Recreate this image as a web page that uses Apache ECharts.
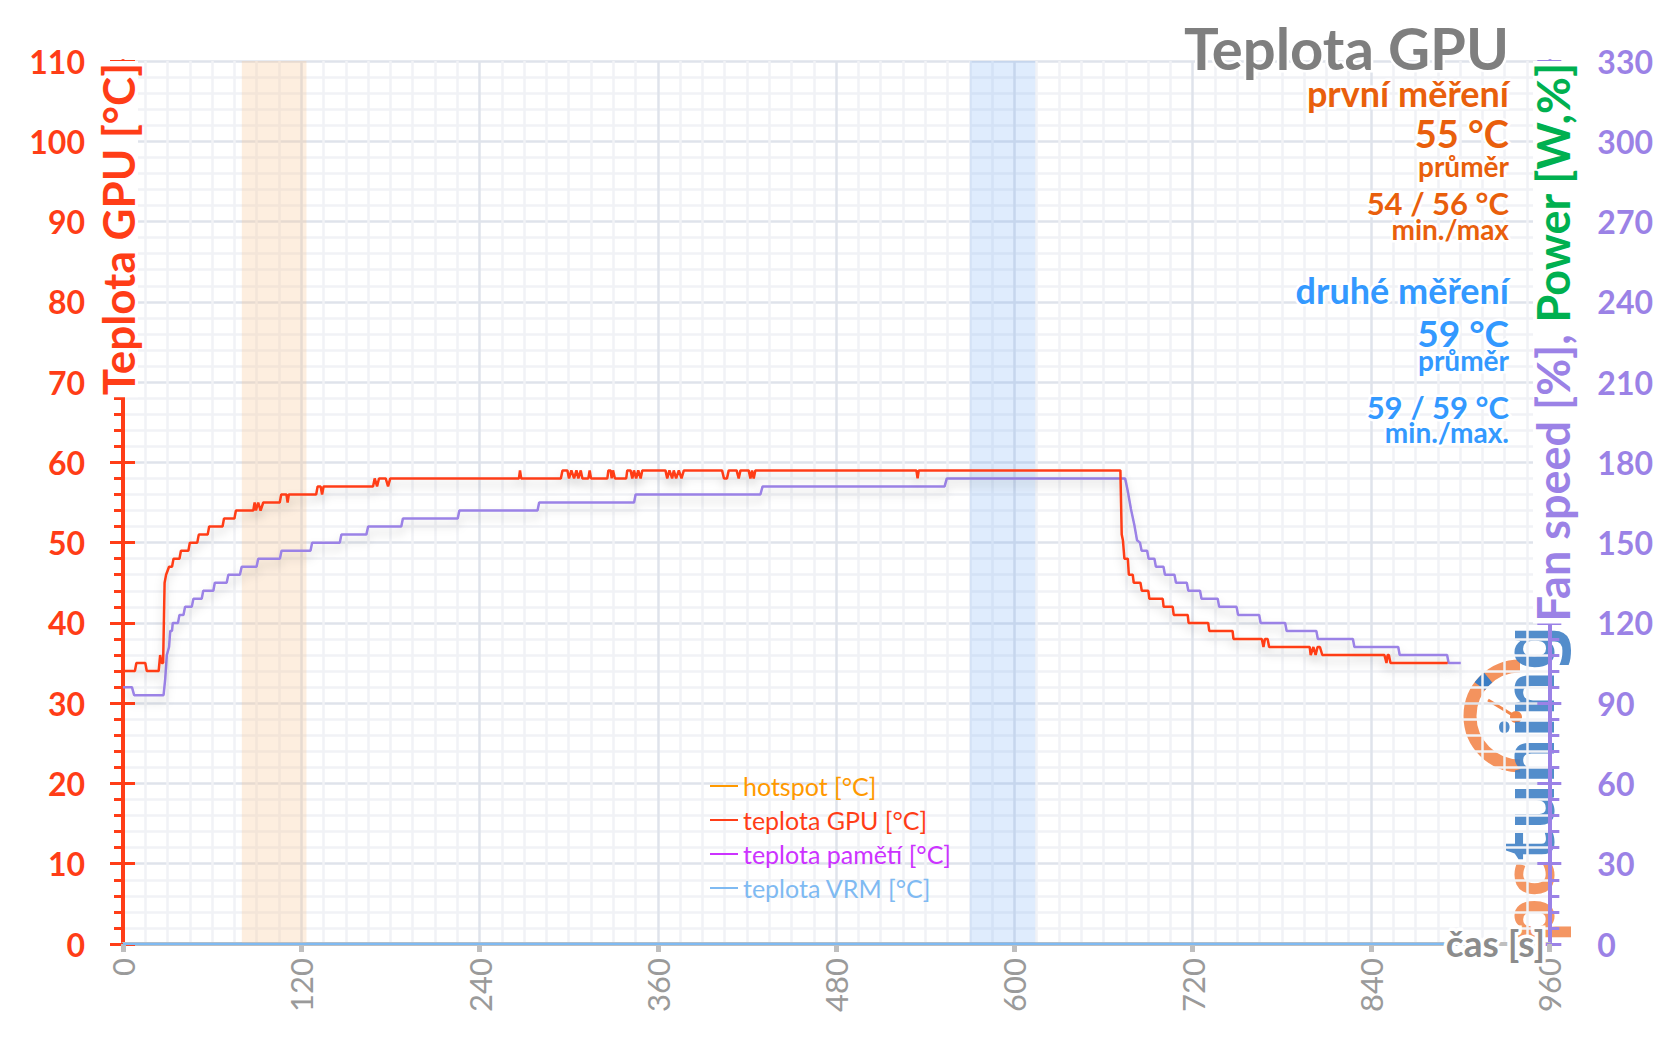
<!DOCTYPE html>
<html>
<head>
<meta charset="utf-8">
<title>Teplota GPU</title>
<script src="https://cdn.jsdelivr.net/npm/echarts@6/dist/echarts.min.js"></script>
<style>
  html, body { margin: 0; padding: 0; background: #fff; }
  #chart { width: 1656px; height: 1043px; }
</style>
</head>
<body>
<div id="chart"></div>
<script>
// osa X - cas [s]
const xTicks = [0, 120, 240, 360, 480, 600, 720, 840, 960]

// teplota GPU (cervena), cas [s] / hodnota [°C]
const gpuTime = [0, 8, 9, 15, 16, 24, 25, 26, 27, 28, 29, 31, 33, 34, 38, 39, 44, 45, 50, 51, 57, 58, 67, 68, 75, 76,
  87.7, 88.6, 89.5, 91, 92.6, 94.4, 105.5, 106.5, 110, 110.8, 111.6, 130, 131, 133, 134, 135,
  168.3, 169.4, 171, 172.3, 176.8, 178.4, 179.9, 266.5, 267.2, 268, 294.7, 295.8, 299.1, 300.2, 301.8, 303.6,
  305.2, 306.5, 308.1, 309.2, 313.2, 314.1, 315, 326, 326.7, 328.2, 328.9, 329.8, 331.1, 338.7, 339.4, 341.6,
  342.8, 343.9, 345.4, 346.8, 348.4, 349.5, 365.1, 366.3, 367.8, 369.6, 370.7, 372.3, 374.1, 375.9, 377.5,
  403.2, 404.5, 406.5, 407.7, 413, 414.4, 415.6, 421.1, 422.3, 423.4, 424.5, 425.6, 534, 534.8, 535.6,
  671.3, 672.2, 673, 674, 676.3, 677, 679.6, 680.3, 684.8, 685.7, 690.1, 690.8, 699.8, 700.4, 706.5, 707.2,
  716.6, 717.2, 730.4, 731.1, 746.8, 747.4, 766.5, 767.6, 768.6, 770.4, 771.4, 798.7, 799.4, 801.2, 802.7,
  804, 805.6, 807.2, 849, 850.4, 851.2, 852, 853.1, 891.6]
const gpuTemp = [34, 34, 35, 35, 34, 34, 36, 35, 35, 45, 46, 47, 47, 48, 48, 49, 49, 50, 50, 51, 51, 52, 52, 53, 53, 54,
  54, 55, 54, 55, 54, 55, 55, 56, 56, 55, 56, 56, 57, 57, 56, 57,
  57, 58, 57, 58, 58, 57, 58, 58, 59, 58, 58, 59, 59, 58, 59, 58,
  59, 58, 59, 58, 58, 59, 58, 58, 59, 59, 58, 59, 58, 58, 59, 59,
  58, 59, 58, 59, 58, 59, 59, 58, 59, 58, 59, 58, 59, 58, 59,
  59, 58, 58, 59, 59, 58, 59, 59, 58, 59, 58, 59, 59, 58, 59,
  59, 51, 50.3, 48, 48, 46, 46, 45, 45, 44, 44, 43, 43, 42, 42, 41,
  41, 40, 40, 39, 39, 38, 38, 37, 38, 38, 37, 37, 36, 37, 36,
  37, 37, 36, 36, 35, 36, 36, 35, 35]

// druha krivka (fialova) [°C]
const memTime = [0, 6, 7.5, 27.3, 28.4, 29.5, 31, 31.8, 33, 33.5, 37, 38, 40.7, 41.8, 46.3, 47.4, 53, 54, 60.8, 61.8,
  69.8, 70.9, 78.7, 79.9, 89.9, 91, 105.6, 106.7, 126.2, 127.3, 145.9, 147, 163.8, 165, 187.3, 188.4,
  225.3, 226.4, 279, 280.1, 344, 345, 429, 430.5, 553, 554.5, 674.5, 676.2, 678.4, 680.7, 682.5, 684.5,
  685.6, 689.3, 690.3, 694.2, 695.2, 700.3, 701.3, 707.7, 708.7, 716, 717, 724.9, 725.9, 736.8, 737.8,
  749.5, 750.5, 764.7, 765.7, 782.2, 783.2, 803.2, 804.2, 827.8, 828.8, 858.3, 859.3, 891.2, 892.2, 900.4]
const memTemp = [32, 32, 31, 31, 33, 36, 37, 39, 39, 40, 40, 41, 41, 42, 42, 43, 43, 44, 44, 45,
  45, 46, 46, 47, 47, 48, 48, 49, 49, 50, 50, 51, 51, 52, 52, 53,
  53, 54, 54, 55, 55, 56, 56, 57, 57, 58, 58, 56.5, 54.2, 52.2, 50.3, 50,
  49, 49, 48, 48, 47, 47, 46, 46, 45, 45, 44, 44, 43, 43, 42,
  42, 41, 41, 40, 40, 39, 39, 38, 38, 37, 37, 36, 36, 35, 35]

// teplota VRM - nulova
const vrmTime = [0, 900]
const vrmTemp = [0, 0]

// zvyraznene useky [s]
const bandFirst = [80, 123.5]
const bandSecond = [570, 614]

const FONT = 'Lato'
const RED = '#ff3d17'
const PURPLE = '#9b82e6'
const ORANGE_TXT = '#e95f0c'
const BLUE_TXT = '#3399ff'

const pairs = (t, v) => t.map((x, i) => [x, v[i]])

const chart = echarts.init(document.getElementById('chart'), null, { renderer: 'svg' })

const lineShadow = {
  shadowColor: 'rgba(0,0,0,0.18)',
  shadowBlur: 10,
  shadowOffsetY: 6
}

// texty vpravo nahore: text, velikost, y, barva
const infoTexts = [
  ['Teplota GPU', 58, 47, '#7f7f7f'],
  ['první měření', 36, 93, ORANGE_TXT],
  ['55 °C', 38, 133, ORANGE_TXT],
  ['průměr', 28, 166, ORANGE_TXT],
  ['54 / 56 °C', 31, 203, ORANGE_TXT],
  ['min./max', 28, 229, ORANGE_TXT],
  ['druhé měření', 36, 290, BLUE_TXT],
  ['59 °C', 37, 332, BLUE_TXT],
  ['průměr', 28, 360, BLUE_TXT],
  ['59 / 59 °C', 31, 407, BLUE_TXT],
  ['min./max.', 28, 432, BLUE_TXT]
]

const graphic = infoTexts.map(([text, size, y, color]) => ({
  type: 'text',
  x: 1509,
  y: y,
  z: 50,
  silent: true,
  style: {
    text: text,
    fontFamily: FONT,
    fontWeight: 'bold',
    fontSize: size,
    lineHeight: Math.round(size * 0.8),
    fill: color,
    align: 'right',
    verticalAlign: 'middle',
    stroke: '#fff',
    lineWidth: 5,
    strokeFirst: true
  }
}))

graphic.push(
  // nazev leve osy
  {
    type: 'text',
    x: 118,
    y: 61,
    rotation: Math.PI / 2,
    z: 50,
    silent: true,
    style: {
      text: 'Teplota GPU [°C]',
      fontFamily: FONT,
      fontWeight: 'bold',
      fontSize: 44,
      lineHeight: 40,
      fill: RED,
      align: 'right',
      verticalAlign: 'middle',
      backgroundColor: '#fff',
      padding: [0, 2]
    }
  },
  // nazev prave osy
  {
    type: 'text',
    x: 1553,
    y: 61,
    rotation: Math.PI / 2,
    z: 50,
    silent: true,
    style: {
      text: '{a|Fan speed [%], }{b|Power [W,%]}',
      align: 'right',
      verticalAlign: 'middle',
      backgroundColor: '#fff',
      padding: [0, 2],
      rich: {
        a: { fontFamily: FONT, fontWeight: 'bold', fontSize: 45, lineHeight: 40, fill: PURPLE },
        b: { fontFamily: FONT, fontWeight: 'bold', fontSize: 45, lineHeight: 40, fill: '#00b050' }
      }
    }
  },
  // popis osy x
  {
    type: 'text',
    x: 1545,
    y: 942,
    z: 50,
    silent: true,
    style: {
      text: 'čas [s]',
      fontFamily: FONT,
      fontWeight: 'bold',
      fontSize: 37,
      fill: '#8c8c8c',
      align: 'right',
      verticalAlign: 'middle',
      stroke: '#fff',
      lineWidth: 7,
      strokeFirst: true
    }
  },
  // logo pctuning
  {
    type: 'group',
    z: 40,
    silent: true,
    children: [
      {
        type: 'arc',
        shape: { cx: 1520, cy: 716, r: 50, startAngle: Math.PI / 2, endAngle: Math.PI * 1.5, clockwise: true },
        style: { stroke: '#f3874c', lineWidth: 13, fill: null, opacity: 0.9 }
      },
      {
        type: 'arc',
        shape: { cx: 1520, cy: 716, r: 50, startAngle: 3.78, endAngle: 4.02, clockwise: true },
        style: { stroke: '#3b7dc4', lineWidth: 13, fill: null }
      },
      {
        type: 'line',
        shape: { x1: 1488, y1: 700, x2: 1516, y2: 717 },
        style: { stroke: '#f3874c', lineWidth: 3 }
      },
      {
        type: 'circle',
        shape: { cx: 1516, cy: 717, r: 6 },
        style: { fill: '#f3874c' }
      },
      {
        type: 'text',
        x: 1526,
        y: 784,
        rotation: Math.PI / 2,
        style: {
          text: '{a|pc}{b|tuning}',
          align: 'center',
          verticalAlign: 'middle',
          opacity: 0.88,
          rich: {
            a: { fontFamily: 'Noto Sans', fontWeight: 'bold', fontSize: 71, fill: '#f3874c' },
            b: { fontFamily: 'Noto Sans', fontWeight: 'bold', fontSize: 71, fill: '#3b7dc4' }
          }
        }
      }
    ]
  }
)

const tempAxis = {
  type: 'value',
  min: 0,
  max: 110,
  interval: 10
}

chart.setOption({
  animation: false,
  backgroundColor: '#fff',
  grid: {
    left: 123,
    right: 103,
    top: 61,
    bottom: 99
  },
  legend: {
    orient: 'vertical',
    left: 705,
    top: 768,
    icon: 'rect',
    itemWidth: 28,
    itemHeight: 2,
    itemGap: 8,
    selectedMode: false,
    textStyle: { fontFamily: FONT, fontSize: 25, lineHeight: 26 },
    data: [
      { name: 'hotspot [°C]', itemStyle: { color: '#ff9900' }, textStyle: { color: '#ff9900' } },
      { name: 'teplota GPU [°C]', itemStyle: { color: RED }, textStyle: { color: RED } },
      { name: 'teplota pamětí [°C]', itemStyle: { color: '#cc33ff' }, textStyle: { color: '#cc33ff' } },
      { name: 'teplota VRM [°C]', itemStyle: { color: '#7fbaf2' }, textStyle: { color: '#7fbaf2' } }
    ]
  },
  xAxis: {
    type: 'value',
    min: xTicks[0],
    max: xTicks[xTicks.length - 1],
    interval: 120,
    axisLine: { show: true, lineStyle: { color: '#bfbfbf', width: 4 } },
    axisTick: { show: true, length: 8, lineStyle: { color: '#bfbfbf', width: 5 } },
    minorTick: { show: false, splitNumber: 8 },
    axisLabel: {
      rotate: 90,
      margin: 14,
      color: '#9a9a9a',
      fontFamily: FONT,
      fontSize: 31
    },
    splitLine: { show: true, lineStyle: { color: '#dfe3eb', width: 2.5 } },
    minorSplitLine: { show: true, lineStyle: { color: '#f1f2f6', width: 2.5 } }
  },
  yAxis: [
    {
      ...tempAxis,
      position: 'left',
      axisLine: { show: true, lineStyle: { color: RED, width: 4 } },
      axisTick: { show: true, length: 13, lineStyle: { color: RED, width: 3 } },
      minorTick: { show: true, splitNumber: 5, length: 9, lineStyle: { color: RED, width: 3 } },
      axisLabel: { margin: 38, color: RED, fontFamily: FONT, fontWeight: 'bold', fontSize: 32 },
      splitLine: { show: true, lineStyle: { color: '#dfe3eb', width: 2.5 } },
      minorSplitLine: { show: true, lineStyle: { color: '#f1f2f6', width: 2.5 } }
    },
    {
      type: 'value',
      min: 0,
      max: 330,
      interval: 30,
      position: 'right',
      axisLine: { show: true, lineStyle: { color: PURPLE, width: 4 } },
      axisTick: { show: true, length: 12, lineStyle: { color: PURPLE, width: 3 } },
      minorTick: { show: true, splitNumber: 5, length: 10, lineStyle: { color: PURPLE, width: 3 } },
      axisLabel: { margin: 48, color: PURPLE, fontFamily: FONT, fontWeight: 'bold', fontSize: 32 },
      splitLine: { show: false }
    },
    // vnitrni cast hlavnich ticku
    {
      ...tempAxis,
      position: 'left',
      axisLine: { show: false },
      axisTick: { show: true, inside: true, length: 12, lineStyle: { color: RED, width: 3 } },
      axisLabel: { show: false },
      splitLine: { show: false }
    },
    {
      type: 'value',
      min: 0,
      max: 330,
      interval: 30,
      position: 'right',
      axisLine: { show: false },
      axisTick: { show: true, inside: true, length: 12, lineStyle: { color: PURPLE, width: 3 } },
      axisLabel: { show: false },
      splitLine: { show: false }
    }
  ],
  graphic: graphic,
  series: [
    {
      name: 'hotspot [°C]',
      type: 'line',
      color: '#ff9900',
      data: []
    },
    {
      name: 'teplota VRM [°C]',
      type: 'line',
      color: '#7fbaf2',
      showSymbol: false,
      silent: true,
      z: 3,
      lineStyle: { width: 2.5 },
      data: pairs(vrmTime, vrmTemp),
      markArea: {
        silent: true,
        data: [
          [{ xAxis: bandFirst[0], itemStyle: { color: 'rgba(250,200,150,0.3)' } }, { xAxis: bandFirst[1] }],
          [{ xAxis: bandSecond[0], itemStyle: { color: 'rgba(110,170,245,0.22)' } }, { xAxis: bandSecond[1] }]
        ]
      }
    },
    {
      name: 'teplota pamětí [°C]',
      type: 'line',
      color: PURPLE,
      showSymbol: false,
      silent: true,
      z: 4,
      lineStyle: { width: 2.5, ...lineShadow },
      data: pairs(memTime, memTemp)
    },
    {
      name: 'teplota GPU [°C]',
      type: 'line',
      color: RED,
      showSymbol: false,
      silent: true,
      z: 5,
      lineStyle: { width: 2.5, ...lineShadow },
      data: pairs(gpuTime, gpuTemp)
    }
  ]
})
</script>
</body>
</html>
